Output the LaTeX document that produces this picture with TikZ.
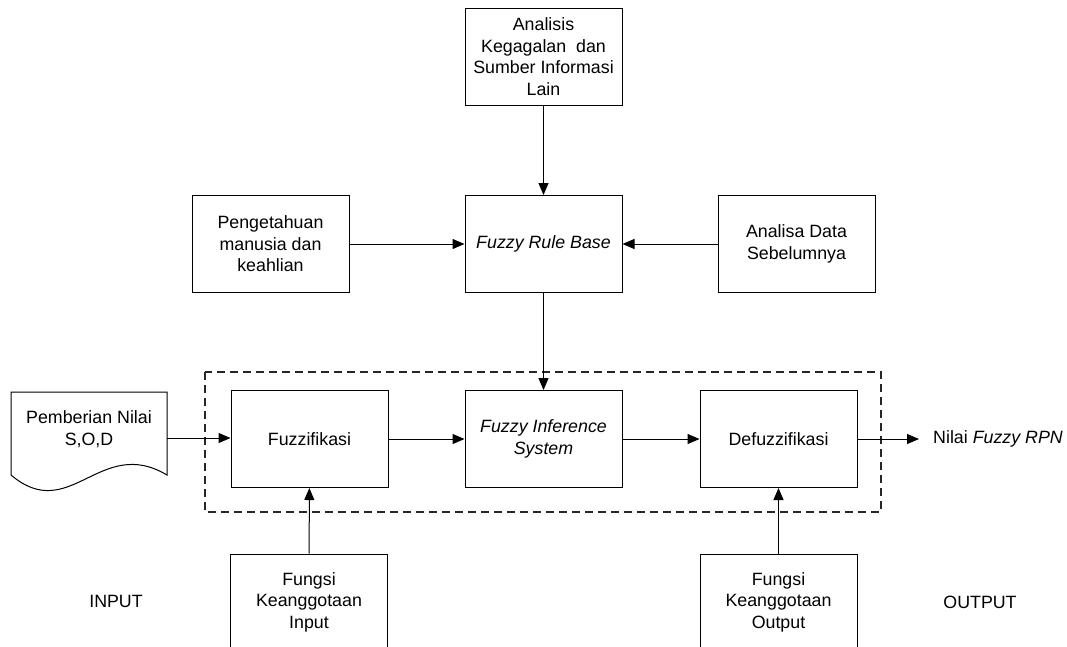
\documentclass[tikz,border=0pt]{standalone}
\usepackage{fontspec}
\setmainfont{Liberation Sans}
\usetikzlibrary{arrows.meta}
\begin{document}
\begin{tikzpicture}[x=1pt,y=-1pt,
  every node/.style={font=\fontsize{17.8}{21.5}\selectfont, align=center, inner sep=0pt},
  blok/.style={draw, line width=1pt, minimum width=157pt, minimum height=97pt},
  panah/.style={line width=1pt, -{Triangle[length=12pt,width=10pt]}},
  garis/.style={line width=1pt},
  batas/.style={line width=1.1pt, draw=black!85, dash pattern=on 8pt off 5pt}]
  \clip (0,0) rectangle (1067,646);
  \path[use as bounding box] (0,0) rectangle (1067,646);

  % upper row: knowledge sources and rule base
  \node[blok] (analisis) at (543.5,56.5) {Analisis\\Kegagalan\ \ dan\\Sumber Informasi\\Lain};
  \node[blok] (rule) at (543.5,244) {\itshape Fuzzy Rule Base};
  \node[blok] (tahu) at (270.5,244) {Pengetahuan\\manusia dan\\keahlian};
  \node[blok] (data) at (796.5,244) {Analisa Data\\Sebelumnya};

  % inference system boundary
  \draw[batas] (205,372) rectangle (881,512);

  % processing chain
  \node[blok] (fuzz) at (309.5,439) {Fuzzifikasi};
  \node[blok] (fis) at (543.5,439) {\itshape Fuzzy Inference\\\itshape System};
  \node[blok] (defuzz) at (778.5,439) {Defuzzifikasi};

  % input document
  \draw[garis] (11,475) -- (11,392) -- (167,392) -- (167,475)
    .. controls (100,435) and (70,525) .. (11,475);
  \node (doc) at (89,429) {Pemberian Nilai\\S,O,D};
  \coordinate (docR) at (167,438);

  % membership functions (running off the lower edge)
  \node[blok, minimum height=96pt] (fin) at (309,602) {Fungsi\\Keanggotaan\\Input};
  \node[blok, minimum height=96pt] (fout) at (778.5,602) {Fungsi\\Keanggotaan\\Output};

  % labels
  \node (inp) at (116,601) {INPUT};
  \node (outp) at (980,602) {OUTPUT};
  \coordinate (hasil) at (919,439);
  \node[anchor=west] (rpn) at (933,439) {Nilai \textit{Fuzzy RPN}};

  % connectors
  \draw[panah] (analisis) -- (rule);
  \draw[panah] (tahu) -- (rule);
  \draw[panah] (data) -- (rule);
  \draw[panah] (rule) -- (fis);
  \draw[panah] (docR) -- (docR -| fuzz.west);
  \draw[panah] (fuzz) -- (fis);
  \draw[panah] (fis) -- (defuzz);
  \draw[panah] (defuzz) -- (hasil);
  \draw[panah] (fin) -- (fuzz);
  \draw[panah] (fout) -- (defuzz);
\end{tikzpicture}
\end{document}
